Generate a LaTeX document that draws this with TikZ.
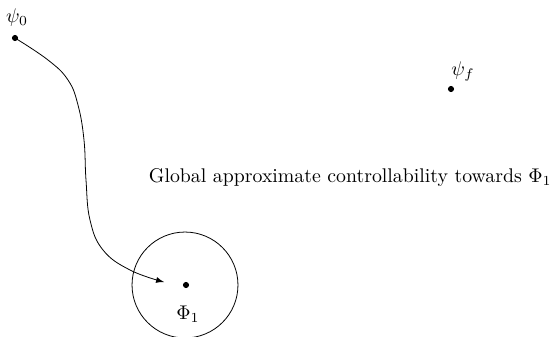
\documentclass[tikz,border=0pt]{standalone}
\usetikzlibrary{arrows}
\begin{document}
\begin{tikzpicture}[x=0.505pt,y=-0.505pt,
  pt/.style={circle,fill=black,inner sep=0pt,minimum size=3.1pt},
  lbl/.style={inner sep=1pt}]
\useasboundingbox (0,0) rectangle (554,336);
\node[pt] (psi0) at (15,38) {};
\node[lbl] (psi0l) at (17,18) {$\psi_0$};
\node[pt] (psif) at (451,89) {};
\node[lbl] (psifl) at (463,71) {$\psi_f$};
\node[pt] (phi1) at (186,285) {};
\node[lbl] (phi1l) at (188,314) {$\Phi_1$};
\node[draw,circle,minimum size=53.5pt,inner sep=0pt] (ball) at (185,285) {};
\node[lbl,anchor=east] (txt) at (554,178) {Global approximate controllability towards $\Phi_1$};
\coordinate (tip) at (164,282);
\draw[-latex,thin] plot[smooth,tension=0.7] coordinates {(psi0.center) (48,60) (68,80) (78,105) (84,140) (86,180) (90,220) (103,250) (130,270) (tip)};
\end{tikzpicture}
\end{document}
